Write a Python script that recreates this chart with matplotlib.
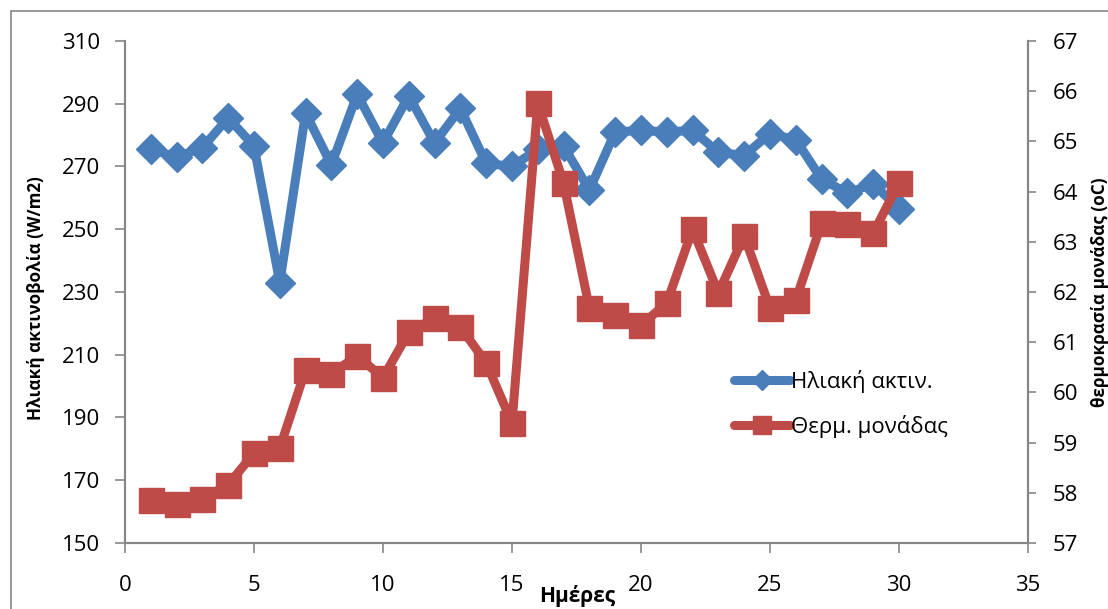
import matplotlib.pyplot as plt
import matplotlib.patches as patches

plt.rcParams['font.family'] = ['Open Sans', 'DejaVu Sans']

days = list(range(1, 31))
radiation = [275.5, 273, 276, 285.5, 276.5, 233, 287, 270.5, 293, 277.5,
             292.5, 277.5, 288.5, 271, 270, 275.5, 276.5, 262.5, 281, 281.5,
             281, 281.5, 274.5, 273.5, 280.5, 278.5, 266, 261.5, 264.5, 256.5]
temperature = [57.86, 57.78, 57.88, 58.16, 58.79, 58.89, 60.45, 60.37, 60.73, 60.29,
               61.2, 61.48, 61.3, 60.59, 59.39, 65.76, 64.17, 61.68, 61.54, 61.34,
               61.78, 63.25, 61.98, 63.12, 61.68, 61.84, 63.37, 63.35, 63.17, 64.17]

blue = '#4A7EBB'
red = '#BE4B48'
grey = '#868686'

fig = plt.figure(figsize=(11.08, 6.09), dpi=100)
ax = fig.add_axes([0.1128, 0.1084, 0.815, 0.8243])
ax2 = ax.twinx()

l1, = ax.plot(days, radiation, color=blue, lw=6.5, marker='D', ms=15,
              solid_joinstyle='round', solid_capstyle='round', label='Ηλιακή ακτιν.')
l2, = ax2.plot(days, temperature, color=red, lw=6.5, marker='s', ms=18,
               solid_joinstyle='round', solid_capstyle='round', label='Θερμ. μονάδας')

ax.set_xlim(0, 35)
ax.set_ylim(150, 310)
ax2.set_ylim(57, 67)
ax.set_xticks(range(0, 36, 5))
ax.set_yticks(range(150, 311, 20))
ax2.set_yticks(range(57, 68))

for a in (ax, ax2):
    a.spines['top'].set_visible(False)
    for s in ('left', 'right', 'bottom'):
        a.spines[s].set_color(grey)
        a.spines[s].set_linewidth(1.5)
ax.tick_params(axis='y', direction='out', length=7, width=1.2, color=grey,
               labelsize=16, pad=11)
ax.tick_params(axis='x', direction='out', length=7, width=1.2, color=grey,
               labelsize=16, pad=16)
ax2.tick_params(axis='y', direction='out', length=6, width=1.2, color=grey,
                labelsize=16, pad=12)

fig.text(36 / 1108, 1 - 298 / 609, 'Ηλιακή ακτινοβολία (W/m2)', fontsize=12.3,
         fontweight='bold', rotation=90, ha='center', va='center')
fig.text(577 / 1108, 1 - 596 / 609, 'Ημέρες', fontsize=15, fontweight='bold',
         ha='center', va='center')
fig.text(1100 / 1108, 1 - 292 / 609, 'θερμοκρασία μονάδας (oC)', fontsize=12.3,
         fontweight='bold', rotation=90, ha='center', va='center')

fig.legend(handles=[l1, l2], loc='upper left', bbox_to_anchor=(714 / 1108, 1 - 350 / 609),
           frameon=False, fontsize=16, handlelength=2.5, handletextpad=0.05,
           labelspacing=1.0, markerscale=0.7)

fig.patches.append(patches.Rectangle((11 / 1108, -0.1), 1.2, 1 - 11 / 609 + 0.1,
                                     transform=fig.transFigure, fill=False,
                                     edgecolor=grey, lw=1.2))

fig.savefig('out.png', dpi=100)
